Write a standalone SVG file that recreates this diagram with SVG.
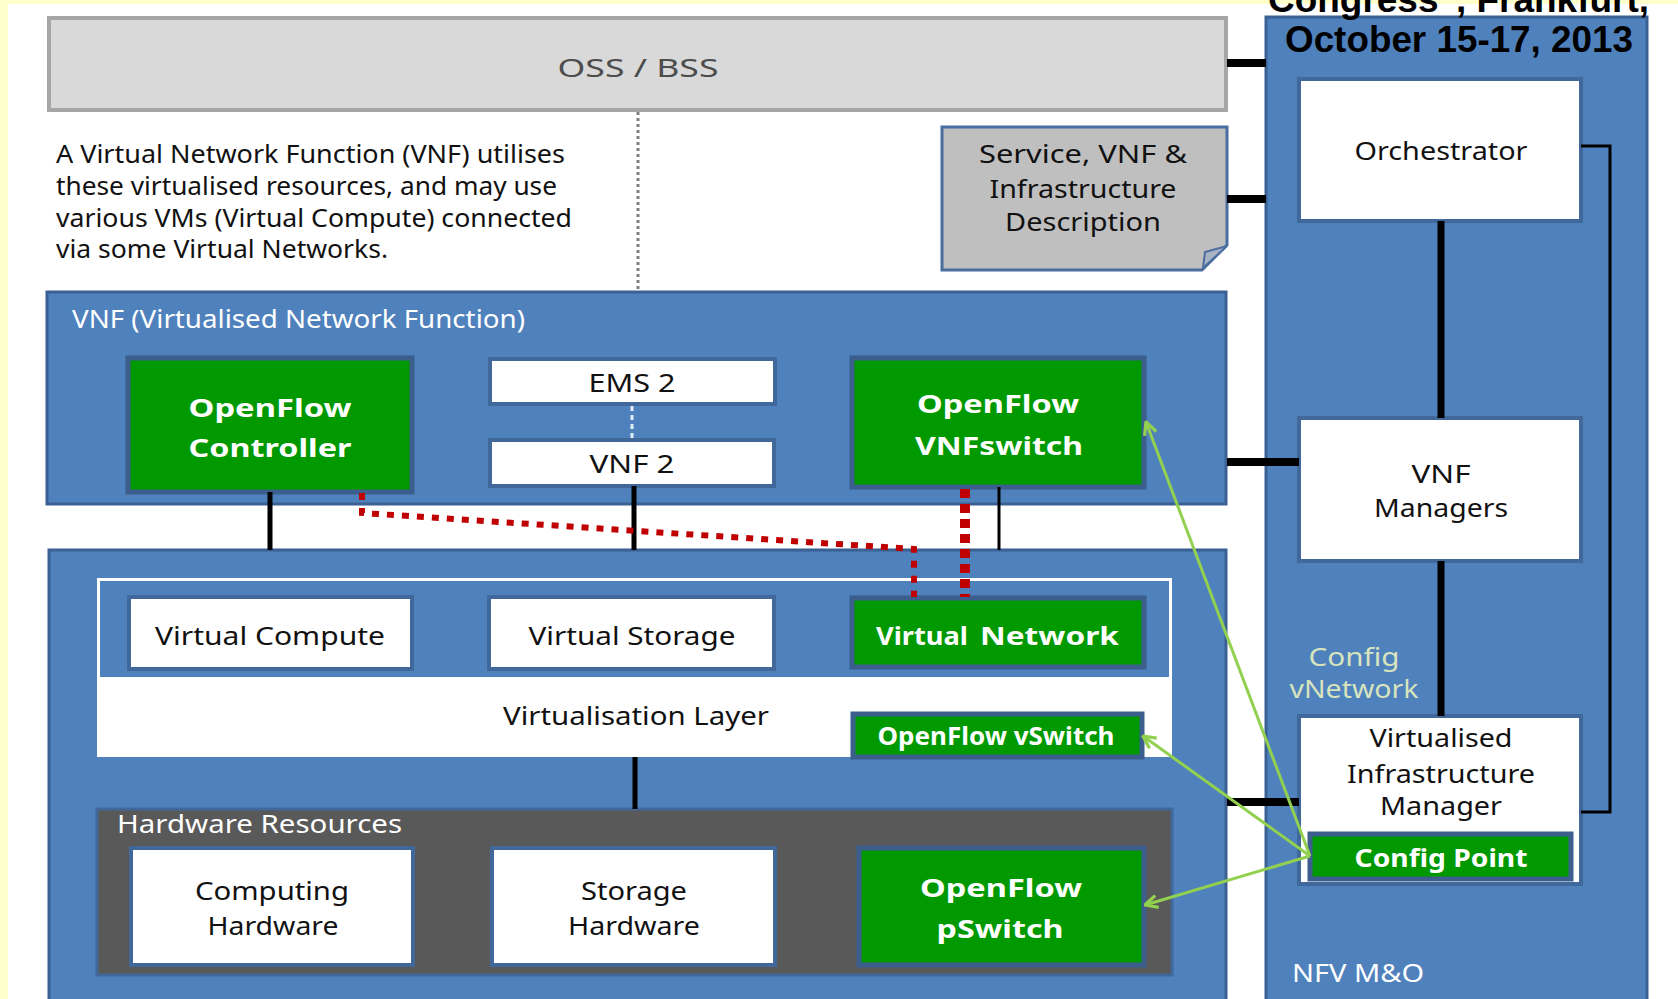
<svg xmlns="http://www.w3.org/2000/svg" width="1678" height="999" viewBox="0 0 1678 999">
<defs>
<style>
.cont{fill:#4F81BD;stroke:#3B6093;stroke-width:3}
.wn{fill:#FFFFFF;stroke:#41689A;stroke-width:4}
.gn{fill:#009900;stroke:#3B5E8C;stroke-width:5}
.t{font-family:"Noto Sans","Open Sans","DejaVu Sans",sans-serif;font-size:25px;fill:#111111}
.c{text-anchor:middle}
.w{fill:#FFFFFF}
.b{font-weight:bold}
.blk{stroke:#000000;fill:none}
.grn{stroke:#92D050;stroke-width:3;fill:none;marker-end:url(#ah)}
</style>
<marker id="ah" viewBox="0 0 12 12" refX="11" refY="6" markerWidth="15" markerHeight="15" markerUnits="userSpaceOnUse" orient="auto">
<path d="M1,1 L11,6 L1,11" fill="none" stroke="#92D050" stroke-width="2.6"/>
</marker>
</defs>

<rect x="0" y="0" width="1678" height="999" fill="#FFFFCC"/>
<rect x="8" y="4" width="1670" height="995" fill="#FFFFFF"/>

<g id="nfvmo">
<rect class="cont" x="1266" y="17" width="381" height="990"/>
<text class="t w" x="1292" y="982" font-size="27" textLength="132" lengthAdjust="spacingAndGlyphs">NFV M&amp;O</text>
</g>

<g id="title">
<text x="1268" y="12" font-family="'Liberation Sans',Arial,sans-serif" font-weight="bold" font-size="36" fill="#000000" textLength="381" lengthAdjust="spacingAndGlyphs">Congress", Frankfurt,</text>
<text x="1285" y="52" font-family="'Liberation Sans',Arial,sans-serif" font-weight="bold" font-size="36" fill="#000000" textLength="348" lengthAdjust="spacingAndGlyphs">October 15-17, 2013</text>
</g>

<g id="oss">
<rect x="49" y="18" width="1177" height="92" fill="#D9D9D9" stroke="#A6A6A6" stroke-width="4"/>
<text class="t c" x="638" y="77" font-size="30" style="fill:#4D4D4D" textLength="161" lengthAdjust="spacingAndGlyphs">OSS / BSS</text>
</g>

<g id="description">
<text class="t" x="56" y="163" font-size="24" textLength="509" lengthAdjust="spacingAndGlyphs">A Virtual Network Function (VNF) utilises</text>
<text class="t" x="56" y="195" font-size="24" textLength="501" lengthAdjust="spacingAndGlyphs">these virtualised resources, and may use</text>
<text class="t" x="56" y="227" font-size="24" textLength="516" lengthAdjust="spacingAndGlyphs">various VMs (Virtual Compute) connected</text>
<text class="t" x="56" y="258" font-size="24" textLength="332" lengthAdjust="spacingAndGlyphs">via some Virtual Networks.</text>
</g>

<g id="service-desc">
<path d="M942,127 H1227 V245 L1202,270 H942 Z" fill="#BFBFBF" stroke="#4A6E9F" stroke-width="3"/>
<path d="M1227,246 L1205,252 L1203,268 Z" fill="#A9B2C2" stroke="#4A6E9F" stroke-width="2"/>
<text class="t c" x="1083" y="163" textLength="208" lengthAdjust="spacingAndGlyphs">Service, VNF &amp;</text>
<text class="t c" x="1083" y="198" textLength="187" lengthAdjust="spacingAndGlyphs">Infrastructure</text>
<text class="t c" x="1083" y="231" textLength="156" lengthAdjust="spacingAndGlyphs">Description</text>
</g>

<g id="orchestrator">
<rect class="wn" x="1299" y="79" width="282" height="142"/>
<text class="t c" x="1441" y="160" textLength="173" lengthAdjust="spacingAndGlyphs">Orchestrator</text>
</g>

<g id="vnf-managers">
<rect class="wn" x="1299" y="418" width="282" height="143"/>
<text class="t c" x="1441" y="483" textLength="59" lengthAdjust="spacingAndGlyphs">VNF</text>
<text class="t c" x="1441" y="517" textLength="134" lengthAdjust="spacingAndGlyphs">Managers</text>
</g>

<g id="config-vnetwork">
<text class="t c" x="1354" y="666" font-size="25" style="fill:#D7E4BD" textLength="91" lengthAdjust="spacingAndGlyphs">Config</text>
<text class="t c" x="1354" y="698" font-size="25" style="fill:#D7E4BD" textLength="129" lengthAdjust="spacingAndGlyphs">vNetwork</text>
</g>

<g id="vim">
<rect class="wn" x="1299" y="716" width="282" height="168"/>
<text class="t c" x="1441" y="747" textLength="143" lengthAdjust="spacingAndGlyphs">Virtualised</text>
<text class="t c" x="1441" y="783" textLength="188" lengthAdjust="spacingAndGlyphs">Infrastructure</text>
<text class="t c" x="1441" y="815" textLength="122" lengthAdjust="spacingAndGlyphs">Manager</text>
</g>

<g id="config-point">
<rect class="gn" x="1310" y="834" width="261" height="45"/>
<text class="t c w b" x="1441" y="867" textLength="173" lengthAdjust="spacingAndGlyphs">Config Point</text>
</g>

<g id="vnf">
<rect class="cont" x="47" y="292" width="1179" height="212"/>
<text class="t w" x="72" y="328" font-size="27" textLength="453" lengthAdjust="spacingAndGlyphs">VNF (Virtualised Network Function)</text>
</g>

<g id="openflow-controller">
<rect class="gn" x="128" y="358" width="284" height="134"/>
<text class="t c w b" x="270" y="417" font-size="31" textLength="163" lengthAdjust="spacingAndGlyphs">OpenFlow</text>
<text class="t c w b" x="270" y="457" font-size="31" textLength="163" lengthAdjust="spacingAndGlyphs">Controller</text>
</g>

<g id="ems2">
<rect class="wn" x="490" y="359" width="285" height="45"/>
<text class="t c" x="632" y="392" font-size="24" textLength="87" lengthAdjust="spacingAndGlyphs">EMS 2</text>
</g>

<g id="vnf2">
<rect class="wn" x="490" y="440" width="284" height="46"/>
<text class="t c" x="632" y="473" font-size="24" textLength="85" lengthAdjust="spacingAndGlyphs">VNF 2</text>
</g>

<g id="openflow-vnfswitch">
<rect class="gn" x="852" y="358" width="292" height="129"/>
<text class="t c w b" x="998" y="413" font-size="31" textLength="162" lengthAdjust="spacingAndGlyphs">OpenFlow</text>
<text class="t c w b" x="999" y="455" font-size="31" textLength="168" lengthAdjust="spacingAndGlyphs">VNFswitch</text>
</g>

<g id="nfvi">
<rect class="cont" x="49" y="550" width="1177" height="460"/>
</g>

<g id="virtualisation-layer">
<rect x="97" y="578" width="1075" height="179" fill="#FFFFFF"/>
<rect x="100" y="581" width="1069" height="96" fill="#4F81BD"/>
<text class="t c" x="636" y="725" textLength="266" lengthAdjust="spacingAndGlyphs">Virtualisation Layer</text>
</g>

<g id="virtual-compute">
<rect class="wn" x="129" y="597" width="283" height="72"/>
<text class="t c" x="270" y="645" textLength="230" lengthAdjust="spacingAndGlyphs">Virtual Compute</text>
</g>

<g id="virtual-storage">
<rect class="wn" x="489" y="597" width="285" height="72"/>
<text class="t c" x="632" y="645" textLength="207" lengthAdjust="spacingAndGlyphs">Virtual Storage</text>
</g>

<g id="virtual-network">
<rect class="gn" x="852" y="598" width="292" height="69"/>
<text class="t w b" x="876" y="645" font-size="27" textLength="92" lengthAdjust="spacingAndGlyphs">Virtual</text>
<text class="t w b" x="980" y="645" font-size="33" textLength="139" lengthAdjust="spacingAndGlyphs">Network</text>
</g>

<g id="openflow-vswitch">
<rect class="gn" x="853" y="714" width="289" height="43"/>
<text class="t c w b" x="996" y="745" textLength="237" lengthAdjust="spacingAndGlyphs">OpenFlow vSwitch</text>
</g>

<g id="hardware-resources">
<rect x="97" y="809" width="1075" height="166" fill="#595959" stroke="#41689A" stroke-width="3"/>
<text class="t w" x="117" y="833" font-size="26" textLength="285" lengthAdjust="spacingAndGlyphs">Hardware Resources</text>
</g>

<g id="computing-hardware">
<rect class="wn" x="131" y="848" width="282" height="117"/>
<text class="t c" x="272" y="900" textLength="154" lengthAdjust="spacingAndGlyphs">Computing</text>
<text class="t c" x="273" y="935" textLength="131" lengthAdjust="spacingAndGlyphs">Hardware</text>
</g>

<g id="storage-hardware">
<rect class="wn" x="492" y="848" width="283" height="117"/>
<text class="t c" x="634" y="900" textLength="106" lengthAdjust="spacingAndGlyphs">Storage</text>
<text class="t c" x="634" y="935" textLength="132" lengthAdjust="spacingAndGlyphs">Hardware</text>
</g>

<g id="openflow-pswitch">
<rect class="gn" x="859" y="848" width="285" height="117"/>
<text class="t c w b" x="1001" y="897" font-size="31" textLength="162" lengthAdjust="spacingAndGlyphs">OpenFlow</text>
<text class="t c w b" x="1000" y="938" font-size="31" textLength="127" lengthAdjust="spacingAndGlyphs">pSwitch</text>
</g>

<g id="connectors">
<line x1="638" y1="112" x2="638" y2="290" stroke="#7F7F7F" stroke-width="3" stroke-dasharray="3 3"/>
<line x1="632" y1="406" x2="632" y2="438" stroke="#E6ECF4" stroke-width="3" stroke-dasharray="5 4"/>
<line class="blk" x1="270" y1="492" x2="270" y2="550" stroke-width="5"/>
<line class="blk" x1="634" y1="486" x2="634" y2="550" stroke-width="5"/>
<line class="blk" x1="999" y1="487" x2="999" y2="550" stroke-width="3"/>
<line class="blk" x1="635" y1="757" x2="635" y2="809" stroke-width="5"/>
<line class="blk" x1="1227" y1="63" x2="1266" y2="63" stroke-width="8"/>
<line class="blk" x1="1227" y1="199" x2="1266" y2="199" stroke-width="8"/>
<line class="blk" x1="1227" y1="462" x2="1299" y2="462" stroke-width="8"/>
<line class="blk" x1="1227" y1="802" x2="1299" y2="802" stroke-width="8"/>
<line class="blk" x1="1441" y1="221" x2="1441" y2="418" stroke-width="7"/>
<line class="blk" x1="1441" y1="561" x2="1441" y2="716" stroke-width="7"/>
<polyline class="blk" points="1581,146 1610,146 1610,812 1581,812" stroke-width="3"/>
<polyline points="362,493 362,513 914,549 914,597" fill="none" stroke="#C00000" stroke-width="6" stroke-dasharray="7 8"/>
<line x1="965" y1="489" x2="965" y2="597" stroke="#C00000" stroke-width="10" stroke-dasharray="9 6"/>
<line class="grn" x1="1310" y1="856" x2="1146" y2="422"/>
<line class="grn" x1="1310" y1="856" x2="1143" y2="736"/>
<line class="grn" x1="1310" y1="856" x2="1145" y2="905"/>
</g>
</svg>
